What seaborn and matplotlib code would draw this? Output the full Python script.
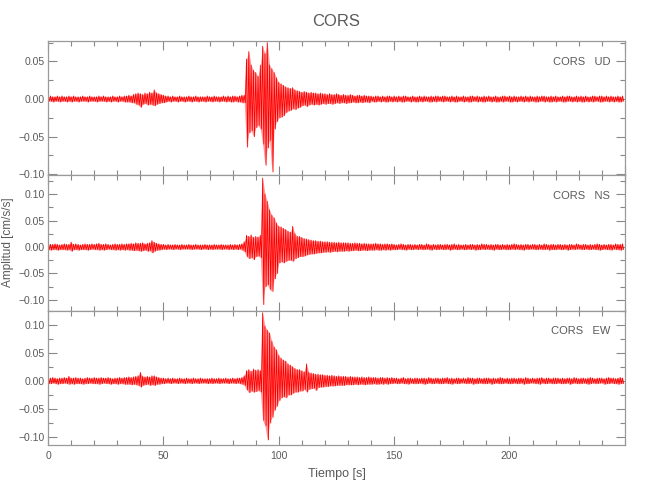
import numpy as np
import pandas as pd
import seaborn as sns
import matplotlib
matplotlib.use('Agg')
import matplotlib.pyplot as plt
from matplotlib.ticker import MultipleLocator

# peak amplitudes per second, in 0.001 cm/s/s
UD_HI = [3,4,3,3,4,3,4,3,3,4, 3,4,3,3,3,4,3,3,4,3, 3,3,4,3,4,3,3,3,4,3, 3,4,3,4,4,5,4,6,7,8,
         7,6,8,7,9,8,12,8,7,6, 5,4,4,3,4,3,3,4,3,3, 3,4,3,3,4,3,3,3,3,4, 3,3,4,3,3,3,4,3,4,3,
         4,4,3,4,5,5,53,63,45,38, 35,30,45,70,60,75,45,40,35,28, 22,20,18,16,15,14,15,12,11,10,
         9,10,9,8,9,8,8,7,8,7, 7,6,7,6,6,7,6,5,6,5, 5,6,5,4,5,5,4,5,4,4,
         4,3,4,4,3,4,3,4,4,3, 4,3,4,3,4,4,3,3,4,3, 3,4,3,4,3,3,4,3,4,4, 3,4,4,3,3,4,3,4,3,3,
         4,3,3,4,4,3,4,3,3,4, 3,4,3,3,4,3,3,4,4,3, 4,3,4,3,3,4,3,4,3,4, 3,3,4,3,4,4,3,3,4,3,
         4,3,3,4,3,4,4,3,3,4, 3,4,3,4,3,3,4,4,3,4, 4,3,4,3,4,3,3,4,3,4]
UD_LO = [-3,-3,-4,-3,-3,-4,-3,-3,-4,-3, -4,-3,-3,-4,-3,-3,-3,-4,-3,-3, -3,-4,-3,-3,-3,-4,-3,-4,-3,-3,
         -4,-3,-3,-4,-4,-4,-5,-5,-7,-8, -11,-7,-6,-8,-7,-8,-9,-7,-6,-5, -5,-4,-3,-4,-3,-3,-4,-3,-3,-4,
         -3,-3,-4,-3,-3,-4,-3,-3,-4,-3, -3,-4,-3,-3,-4,-3,-3,-4,-3,-4, -4,-3,-4,-4,-5,-5,-64,-45,-42,-50,
         -38,-35,-40,-60,-88,-65,-55,-97,-40,-30, -25,-24,-22,-18,-16,-15,-13,-14,-12,-11,
         -9,-8,-10,-8,-7,-8,-7,-8,-7,-6, -7,-6,-6,-7,-6,-5,-6,-5,-5,-6, -5,-5,-4,-5,-5,-4,-5,-4,-4,-5,
         -3,-4,-4,-3,-4,-3,-4,-4,-3,-4, -3,-4,-3,-4,-4,-3,-3,-4,-3,-4, -4,-3,-4,-3,-3,-4,-4,-3,-4,-3,
         -3,-4,-3,-3,-4,-3,-4,-4,-3,-3, -4,-3,-4,-4,-3,-3,-4,-3,-4,-4, -3,-3,-4,-3,-4,-4,-3,-4,-3,-3,
         -4,-4,-3,-4,-3,-3,-4,-3,-4,-3, -3,-4,-4,-3,-3,-4,-3,-4,-4,-3, -4,-3,-3,-4,-4,-3,-3,-4,-3,-4,
         -3,-4,-4,-3,-4,-3,-4,-3,-3,-4, -4,-3,-3,-4,-3,-4,-3,-4,-4,-3]

NS_HI = [6,5,5,6,5,4,5,6,5,5, 9,5,6,5,4,5,6,5,5,6, 5,6,7,5,5,6,5,4,5,6, 5,5,6,5,6,6,7,6,8,7,
         7,8,6,7,8,12,9,7,6,5, 5,4,5,4,4,5,4,4,5,4, 4,5,4,4,5,4,4,4,5,4, 4,4,5,4,4,5,4,4,4,5,
         4,5,4,5,6,10,22,20,23,18, 20,19,22,130,100,86,70,60,55,45, 39,38,35,33,30,28,39,25,20,20,
         18,16,15,14,13,12,12,11,11,10, 10,10,9,9,9,8,9,8,8,8, 8,7,7,8,7,7,6,7,6,6,
         6,6,7,6,6,5,6,6,5,6,
         5,4,5,6,5,4,5,5,4,5, 4,5,5,4,6,5,4,5,4,5, 5,4,5,5,4,5,6,4,5,4, 4,5,4,5,5,4,5,4,6,5,
         5,4,5,4,5,5,4,5,4,5, 4,5,6,5,4,5,4,5,5,4, 5,5,4,5,4,6,5,4,5,5, 4,5,5,4,5,4,5,5,4,6,
         5,4,5,5,4,5,4,5,6,5, 4,5,4,5,5,4,6,5,5,6]
NS_LO = [-5,-6,-5,-5,-6,-5,-5,-5,-6,-5, -8,-5,-5,-6,-5,-5,-5,-6,-5,-4, -5,-5,-6,-5,-6,-5,-4,-5,-5,-6,
         -5,-6,-5,-6,-5,-6,-6,-7,-6,-7, -8,-7,-6,-8,-7,-11,-8,-6,-6,-5, -4,-5,-4,-4,-5,-4,-4,-5,-4,-4,
         -4,-4,-5,-4,-4,-4,-5,-4,-4,-5, -4,-5,-4,-4,-4,-5,-4,-4,-5,-4, -5,-4,-5,-4,-6,-9,-18,-22,-20,-24,
         -18,-17,-20,-109,-75,-71,-80,-84,-60,-50, -30,-28,-30,-27,-25,-25,-27,-22,-20,-18,
         -18,-17,-15,-14,-13,-13,-12,-11,-11,-10, -10,-9,-10,-9,-8,-9,-8,-8,-8,-7,
         -8,-7,-7,-6,-7,-7,-6,-6,-7,-6, -6,-6,-5,-6,-6,-5,-6,-5,-6,-5,
         -5,-5,-4,-5,-5,-6,-4,-5,-5,-4, -5,-4,-5,-5,-4,-5,-6,-4,-5,-5, -4,-5,-5,-4,-6,-5,-4,-5,-5,-4,
         -5,-5,-4,-5,-4,-6,-5,-5,-4,-5, -4,-5,-5,-6,-4,-5,-5,-4,-5,-5, -5,-4,-5,-4,-5,-5,-6,-4,-5,-4,
         -4,-5,-5,-4,-5,-5,-4,-6,-5,-5, -5,-4,-5,-5,-4,-6,-5,-4,-5,-4, -4,-5,-5,-4,-5,-5,-4,-5,-5,-6,
         -5,-4,-5,-5,-6,-4,-5,-5,-6,-5]

EW_HI = [5,5,6,5,4,5,5,6,5,8, 5,5,6,5,5,4,5,6,5,5, 6,5,5,6,5,5,6,5,4,5, 5,6,5,6,6,7,6,7,8,9,
         15,8,7,8,7,9,9,7,6,5, 5,4,5,4,5,4,4,5,4,4, 5,4,4,5,4,4,5,4,4,4, 4,5,4,4,5,4,4,5,4,4,
         5,4,5,5,6,9,18,20,17,21, 19,20,18,121,97,90,85,70,60,55, 45,40,37,35,30,28,25,22,20,20,
         18,16,30,15,14,13,12,12,11,11, 10,10,9,10,9,8,9,8,8,8, 7,8,7,7,7,6,7,6,6,7,
         6,6,6,5,6,6,5,6,5,6,
         5,5,4,5,6,4,5,5,4,5, 5,4,5,5,4,6,5,4,5,5, 4,5,5,6,4,5,4,5,5,4, 5,4,6,5,5,4,5,5,4,5,
         5,5,4,5,4,5,6,5,4,5, 4,5,5,4,5,5,4,6,5,4, 5,4,5,5,6,4,5,5,4,5, 5,5,4,5,4,5,5,4,6,5,
         4,5,5,4,5,6,5,4,5,5, 5,4,5,6,5,5,4,5,6,5]
EW_LO = [-5,-5,-4,-5,-6,-5,-5,-4,-5,-6, -5,-6,-5,-5,-5,-6,-5,-5,-4,-5, -5,-5,-6,-5,-4,-5,-5,-6,-5,-5,
         -6,-5,-5,-6,-6,-6,-7,-6,-7,-8, -11,-8,-7,-6,-8,-7,-8,-6,-6,-5, -5,-4,-4,-5,-4,-4,-5,-4,-4,-5,
         -4,-4,-5,-4,-4,-5,-4,-4,-4,-5, -4,-5,-4,-4,-5,-4,-4,-4,-5,-4, -4,-5,-4,-5,-6,-8,-16,-21,-18,-20,
         -19,-17,-20,-70,-80,-105,-75,-65,-52,-45, -35,-30,-28,-30,-25,-25,-22,-20,-20,-18,
         -18,-15,-20,-15,-14,-13,-17,-12,-11,-11, -10,-10,-9,-9,-9,-8,-8,-8,-8,-7,
         -7,-7,-7,-6,-7,-6,-6,-7,-6,-6, -6,-5,-6,-6,-5,-6,-5,-6,-5,-5,
         -4,-5,-5,-4,-5,-5,-6,-4,-5,-5, -5,-4,-5,-6,-5,-4,-5,-5,-4,-5, -5,-5,-4,-5,-5,-6,-4,-5,-5,-4,
         -4,-5,-5,-4,-6,-5,-5,-4,-5,-5, -5,-4,-6,-5,-4,-5,-5,-5,-4,-5, -5,-5,-4,-5,-5,-4,-6,-5,-5,-4,
         -4,-5,-5,-6,-4,-5,-5,-4,-5,-5, -5,-4,-5,-5,-5,-4,-6,-5,-4,-5, -5,-5,-4,-5,-6,-5,-4,-5,-5,-4,
         -4,-6,-5,-5,-4,-5,-5,-6,-5,-5]

STATION = 'CORS'
COMPONENTS = ['UD', 'NS', 'EW']
YLIMS = [(-0.101, 0.077), (-0.120, 0.136), (-0.114, 0.125)]
X_TICKS = [0, 50, 100, 150, 200]
DT = 1.0  # seconds between envelope samples


def trace(hi, lo):
    t = np.arange(len(hi)) * DT
    x = np.column_stack([t, t + DT / 2]).ravel()
    y = np.column_stack([hi, lo]).ravel() * 1e-3
    return t, pd.DataFrame({'t': x, 'amp': y})


def main():
    sns.set_theme(style='ticks')
    plt.rcParams['font.family'] = ['Liberation Sans', 'DejaVu Sans']
    gray = '#5a5a5a'

    fig = plt.figure(figsize=(6.5, 5), dpi=100)
    boxes = [(0.074, 0.650, 0.888, 0.268),
             (0.074, 0.379, 0.888, 0.271),
             (0.074, 0.110, 0.888, 0.269)]
    data = [(UD_HI, UD_LO), (NS_HI, NS_LO), (EW_HI, EW_LO)]

    axes = []
    for box, (hi, lo), comp, ylim in zip(boxes, data, COMPONENTS, YLIMS):
        ax = fig.add_axes(box)
        t, df = trace(hi, lo)
        ax.fill_between(t, np.array(lo) * 1e-3, np.array(hi) * 1e-3,
                        color='red', alpha=0.4, lw=0)
        sns.lineplot(data=df, x='t', y='amp', ax=ax, color='red', lw=0.6,
                     estimator=None, sort=False)
        ax.set_xlim(0, 250.2)
        ax.set_ylim(*ylim)
        ax.xaxis.set_major_locator(MultipleLocator(50))
        ax.xaxis.set_minor_locator(MultipleLocator(10))
        ax.yaxis.set_major_locator(MultipleLocator(0.05))
        ax.yaxis.set_minor_locator(MultipleLocator(0.025))
        ax.tick_params(which='both', direction='in', top=True, right=True,
                       colors='#888888', labelcolor=gray, labelsize=7.5, width=0.8)
        ax.tick_params(which='major', length=6.5, pad=2.5)
        ax.tick_params(which='minor', length=3.5)
        for sp in ax.spines.values():
            sp.set_color('#999999')
            sp.set_linewidth(0.9)
        ax.set_xlabel('')
        ax.set_ylabel('')
        ax.text(0.974, 0.845, f'{STATION}   {comp}', transform=ax.transAxes,
                ha='right', va='center', fontsize=8, color=gray)
        if comp != 'EW':
            ax.set_xticklabels([])
        axes.append(ax)

    axes[-1].set_xticks(X_TICKS)
    axes[-1].tick_params(axis='x', which='major', pad=4)
    axes[-1].set_xlabel('Tiempo [s]', fontsize=9, color=gray, labelpad=5)
    fig.text(0.0125, 0.515, 'Amplitud [cm/s/s]', rotation=90, ha='center', va='center',
             fontsize=8.5, color=gray)
    fig.text(0.517, 0.958, STATION, ha='center', va='center', fontsize=12, color=gray)

    fig.savefig('out.png', dpi=100)


if __name__ == '__main__':
    main()
